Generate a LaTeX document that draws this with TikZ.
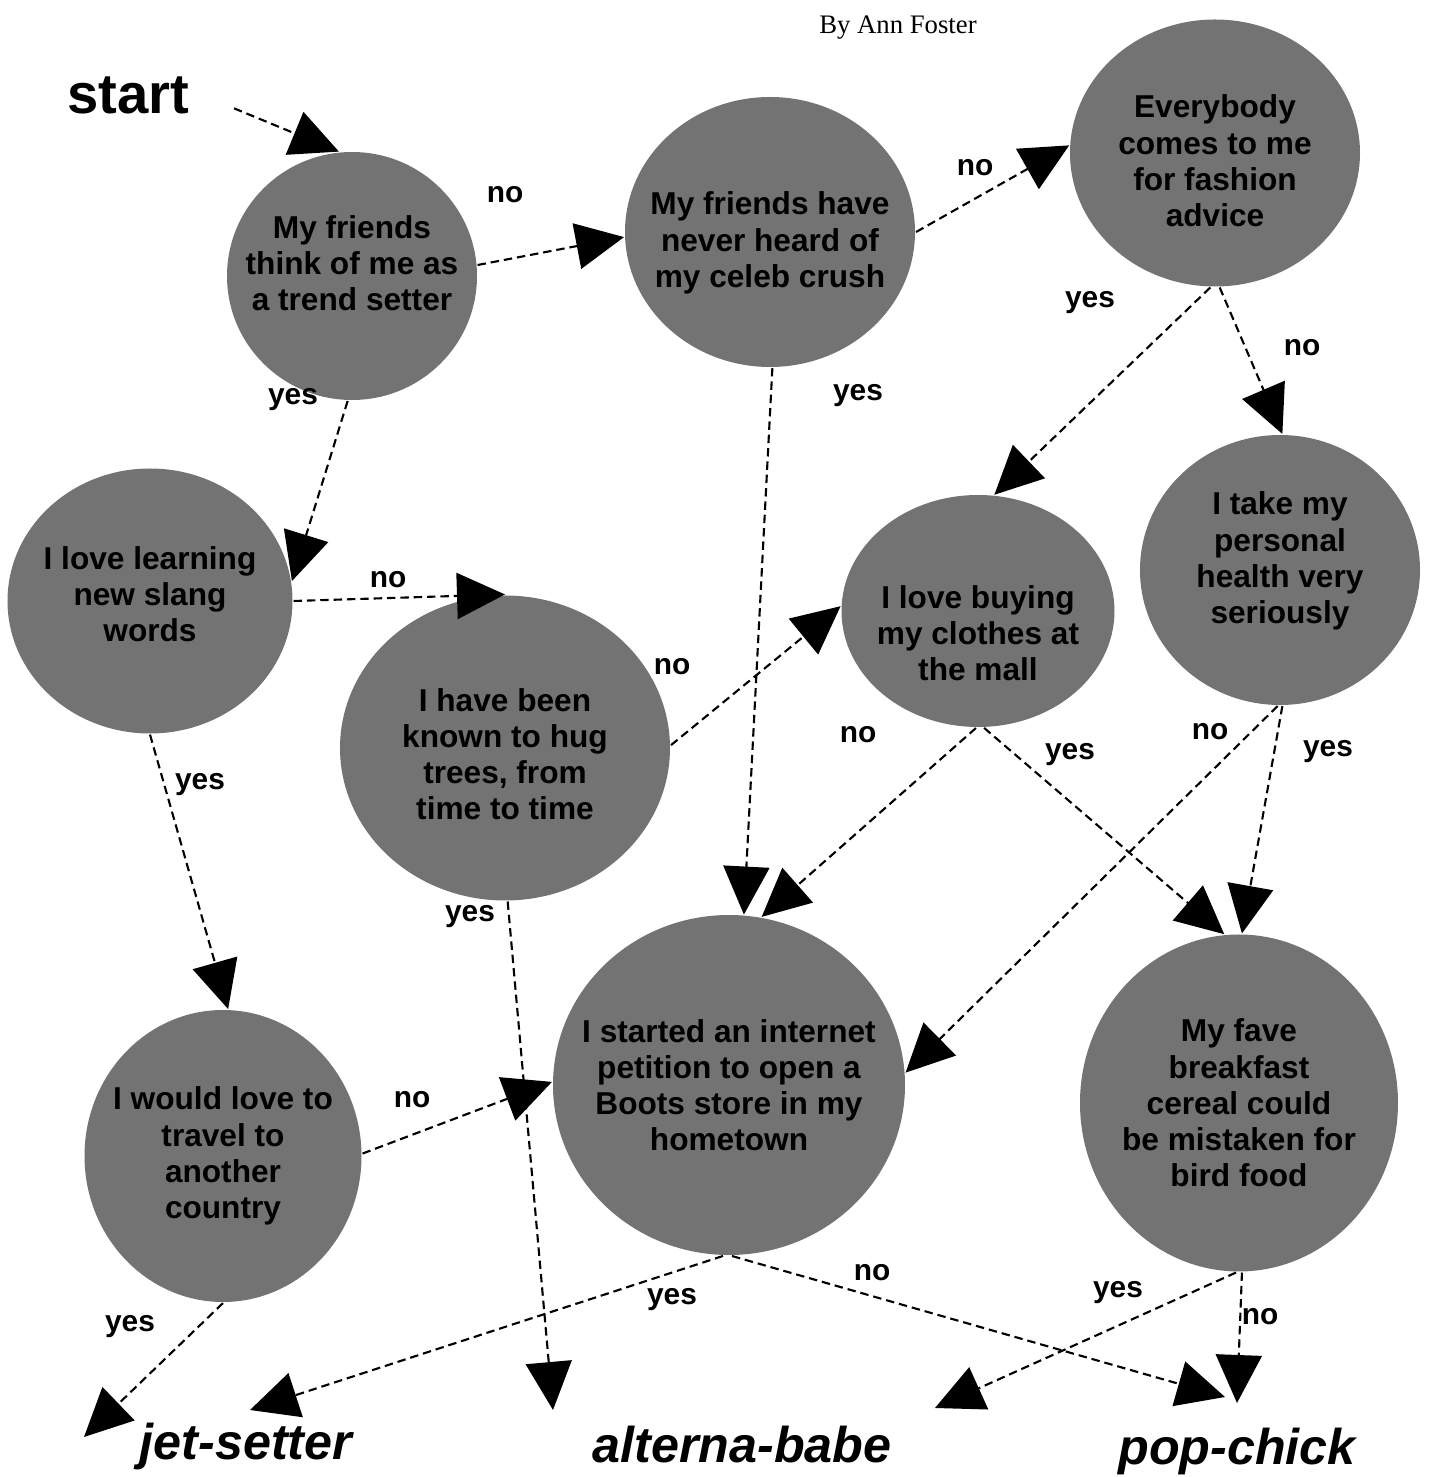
\documentclass[tikz,border=0pt]{standalone}
\usepackage{fontspec}
\setmainfont{Liberation Serif}
\setsansfont{Liberation Sans}
\usetikzlibrary{arrows.meta,positioning,shapes.geometric}

\begin{document}
\begin{tikzpicture}[->, >={Triangle[length=4.8mm,width=4.6mm]}, line width=0.6pt,
    dash pattern=on 2.4pt off 1.4pt,
    question/.style={ellipse, fill=black!55, inner sep=0pt},
    qtext/.style={align=center, inner sep=0pt,
        font=\sffamily\bfseries\fontsize{9}{10.3}\selectfont},
    answer/.style={font=\sffamily\bfseries\itshape\fontsize{14.3}{16}\selectfont},
    choice/.style={font=\sffamily\bfseries\fontsize{8.5}{10}\selectfont}
    ]
\useasboundingbox (0,0) rectangle (14.31,14.77);
% title
\node[font=\sffamily\bfseries\fontsize{16}{18}\selectfont] (start) at (1.28,13.82) {start};
\node[font=\rmfamily\fontsize{7.6}{9}\selectfont] (author) at (8.98,14.49) {By Ann Foster};
% questions
\node[question, minimum width=2.50cm, minimum height=2.48cm] (c1) at (3.52,12.01) {};
\node[question, minimum width=2.90cm, minimum height=2.70cm] (c2) at (7.70,12.45) {};
\node[question, minimum width=2.90cm, minimum height=2.67cm] (c3) at (12.15,13.24) {};
\node[question, minimum width=2.85cm, minimum height=2.65cm] (c4) at (1.50,8.76) {};
\node[question, minimum width=3.30cm, minimum height=3.05cm] (c5) at (5.05,7.29) {};
\node[question, minimum width=2.73cm, minimum height=2.32cm] (c6) at (9.78,8.66) {};
\node[question, minimum width=2.80cm, minimum height=2.70cm] (c7) at (12.80,9.07) {};
\node[question, minimum width=2.77cm, minimum height=2.92cm] (c8) at (2.23,3.21) {};
\node[question, minimum width=3.52cm, minimum height=3.40cm] (c9) at (7.29,3.92) {};
\node[question, minimum width=3.18cm, minimum height=3.37cm] (c10) at (12.39,3.74) {};
\node[qtext] (t1) at ([yshift=1.3mm]c1.center) {My friends\\think of me as\\a trend setter};
\node[qtext] (t2) at ([yshift=-1.1mm]c2.center) {My friends have\\never heard of\\my celeb crush};
\node[qtext] (t3) at ([yshift=-0.8mm]c3.center) {Everybody\\comes to me\\for fashion\\advice};
\node[qtext] (t4) at ([yshift=0.7mm]c4.center) {I love learning\\new slang\\words};
\node[qtext] (t5) at ([yshift=-0.6mm]c5.center) {I have been\\known to hug\\trees, from\\time to time};
\node[qtext] (t6) at ([yshift=-2.2mm]c6.center) {I love buying\\my clothes at\\the mall};
\node[qtext] (t7) at ([yshift=0.9mm]c7.center) {I take my\\personal\\health very\\seriously};
\node[qtext] (t8) at (c8.center) {I would love to\\travel to\\another\\country};
\node[qtext] (t9) at (c9.center) {I started an internet\\petition to open a\\Boots store in my\\hometown};
\node[qtext] (t10) at (c10.center) {My fave\\breakfast\\cereal could\\be mistaken for\\bird food};
% results
\node[answer] (jet) at (2.46,0.30) {jet-setter};
\node[answer] (alterna) at (7.42,0.32) {alterna-babe};
\node[answer] (pop) at (12.37,0.25) {pop-chick};
\coordinate (jet1) at (0.84,0.40);
\coordinate (jet2) at (2.50,0.67);
\coordinate (alt1) at (5.53,0.67);
\coordinate (alt2) at (9.35,0.69);
\coordinate (pop1) at (12.25,0.80);
\coordinate (pop2) at (12.37,0.74);
% yes / no
\node[choice] (n1) at (5.05,12.82) {no};
\node[choice] (y1) at (2.93,10.77) {yes};
\node[choice] (n2) at (9.75,13.09) {no};
\node[choice] (y2) at (8.58,10.81) {yes};
\node[choice] (y3) at (10.90,11.74) {yes};
\node[choice] (n3) at (13.02,11.29) {no};
\node[choice] (n4) at (3.88,8.97) {no};
\node[choice] (y4) at (2.00,6.92) {yes};
\node[choice] (n5) at (6.72,8.10) {no};
\node[choice] (y5) at (4.70,5.60) {yes};
\node[choice] (n6) at (8.58,7.42) {no};
\node[choice] (y6) at (10.70,7.22) {yes};
\node[choice] (n7) at (12.10,7.45) {no};
\node[choice] (y7) at (13.28,7.25) {yes};
\node[choice] (n8) at (4.12,3.77) {no};
\node[choice] (y8) at (1.30,1.50) {yes};
\node[choice] (y9) at (6.72,1.77) {yes};
\node[choice] (n9) at (8.72,2.04) {no};
\node[choice] (y10) at (11.18,1.84) {yes};
\node[choice] (n10) at (12.60,1.60) {no};
% arrows
\path
(start.east) edge [shorten <=0.35cm] (c1.96)
(c1.5)    edge (c2.182)
(c1.-92)  edge (c4.8)
(c2.0)    edge (c3.177)
(c2.-89)  edge (c9.85)
(c3.-92)  edge (c6.82)
(c3.-88)  edge (c7.89)
(c4.0)    edge (c5.90)
(c4.-90)  edge (c8.88)
(c5.1)    edge (c6.178)
(c5.-89)  edge (alt1)
(c6.-91)  edge (c9.79)
(c6.-87)  edge (c10.95)
(c7.-91)  edge (c9.4)
(c7.-89)  edge (c10.89)
(c8.1)    edge (c9.179)
(c8.-90)  edge (jet1)
(c9.-92)  edge (jet2)
(c9.-89)  edge (pop1)
(c10.-91) edge (alt2)
(c10.-89) edge (pop2)
;
\end{tikzpicture}
\end{document}
